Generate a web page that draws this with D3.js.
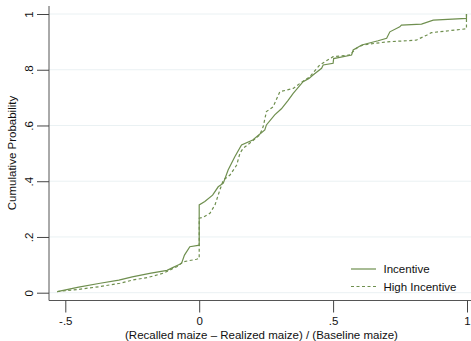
<!DOCTYPE html>
<html>
<head>
<meta charset="utf-8">
<script src="https://cdn.jsdelivr.net/npm/d3@7"></script>
<style>
  html, body { margin: 0; padding: 0; background: #fff; }
  svg { display: block; font-family: "Liberation Sans", Arial, Helvetica, sans-serif; }
</style>
</head>
<body>
<svg id="chart" width="471" height="341"></svg>
<script>
// Empirical CDF of recall error, by incentive arm
const incentiveX = [-0.53, -0.45, -0.37, -0.30, -0.25, -0.18, -0.12, -0.097, -0.066, -0.055, -0.035, -0.004, 0, 0, 0.021, 0.05, 0.071, 0.09, 0.108, 0.133, 0.158, 0.20, 0.245, 0.251, 0.282, 0.307, 0.332, 0.351, 0.388, 0.41, 0.425, 0.457, 0.463, 0.5, 0.502, 0.569, 0.575, 0.607, 0.668, 0.7, 0.712, 0.749, 0.755, 0.83, 0.874, 0.998, 0.998];
const incentiveY = [0.004, 0.02, 0.034, 0.045, 0.057, 0.07, 0.08, 0.091, 0.105, 0.135, 0.165, 0.17, 0.17, 0.315, 0.327, 0.35, 0.38, 0.393, 0.44, 0.488, 0.53, 0.548, 0.584, 0.602, 0.638, 0.66, 0.69, 0.715, 0.757, 0.769, 0.781, 0.805, 0.817, 0.823, 0.84, 0.853, 0.871, 0.889, 0.904, 0.913, 0.936, 0.954, 0.96, 0.964, 0.978, 0.984, 1.0];

const highX = [-0.53, -0.45, -0.37, -0.296, -0.246, -0.19, -0.134, -0.084, -0.06, -0.01, 0, 0, 0.015, 0.04, 0.059, 0.077, 0.09, 0.115, 0.14, 0.152, 0.164, 0.196, 0.226, 0.239, 0.251, 0.276, 0.301, 0.351, 0.376, 0.413, 0.45, 0.5, 0.562, 0.587, 0.612, 0.7, 0.81, 0.849, 0.867, 0.998, 0.998];
const highY = [0.004, 0.012, 0.022, 0.034, 0.046, 0.055, 0.07, 0.093, 0.111, 0.12, 0.123, 0.267, 0.271, 0.285, 0.315, 0.368, 0.404, 0.422, 0.458, 0.5, 0.518, 0.542, 0.566, 0.596, 0.65, 0.667, 0.721, 0.733, 0.751, 0.775, 0.817, 0.847, 0.853, 0.877, 0.889, 0.9, 0.906, 0.924, 0.933, 0.947, 1.0];

const xTicks = [-0.5, 0, 0.5, 1];
const xTickLabels = ["-.5", "0", ".5", "1"];
const yTicks = [0, 0.2, 0.4, 0.6, 0.8, 1];
const yTickLabels = ["0", ".2", ".4", ".6", ".8", "1"];
const seriesNames = ["Incentive", "High Incentive"];

const lineColor = "#6f8f4f";
const textColor = "#111";
const fontSize = 11.5;
const svg = d3.select("#chart");

const plotLeft = 49, plotRight = 471, plotTop = 6, plotBottom = 300.5;
const x = d3.scaleLinear().domain([-0.5, 1]).range([65.3, 467]);
const y = d3.scaleLinear().domain([0, 1]).range([292.7, 14]);

// grid lines
svg.append("g").selectAll("line").data(yTicks).join("line")
  .attr("x1", plotLeft).attr("x2", plotRight)
  .attr("y1", d => y(d)).attr("y2", d => y(d))
  .attr("stroke", "#eaf1f3").attr("stroke-width", 1);

// y axis with vertical tick labels
const yAxis = d3.axisLeft(y).tickValues(yTicks).tickFormat((d, i) => yTickLabels[i]).tickSize(12);
const gy = svg.append("g").attr("transform", `translate(${plotLeft},0)`).call(yAxis);
gy.select(".domain").attr("d", `M0,${plotTop}V${plotBottom}`).attr("stroke", "#555");
gy.selectAll(".tick line").attr("stroke", "#444");
gy.selectAll(".tick text")
  .attr("font-size", fontSize).attr("fill", textColor)
  .attr("transform", "rotate(-90)")
  .attr("x", 0).attr("y", -20)
  .attr("dy", "0.35em")
  .attr("text-anchor", "middle");

// x axis
const xAxis = d3.axisBottom(x).tickValues(xTicks).tickFormat((d, i) => xTickLabels[i]).tickSize(12).tickPadding(4);
const gx = svg.append("g").attr("transform", `translate(0,${plotBottom})`).call(xAxis);
gx.select(".domain").attr("d", `M${plotLeft},0H${plotRight}`).attr("stroke", "#555");
gx.selectAll(".tick line").attr("stroke", "#444");
gx.selectAll(".tick text").attr("font-size", fontSize).attr("fill", textColor);
svg.selectAll(".domain").attr("fill", "none");

// axis titles
svg.append("text")
  .attr("x", 261.5).attr("y", 339)
  .attr("text-anchor", "middle").attr("font-size", fontSize).attr("fill", textColor)
  .text("(Recalled maize – Realized maize) / (Baseline maize)");
svg.append("text")
  .attr("transform", "translate(16,153) rotate(-90)")
  .attr("text-anchor", "middle").attr("font-size", fontSize).attr("fill", textColor)
  .text("Cumulative Probability");

// curves
const line = d3.line().x(d => x(d[0])).y(d => y(d[1]));
const incentive = incentiveX.map((v, i) => [v, incentiveY[i]]);
const high = highX.map((v, i) => [v, highY[i]]);

svg.append("path").datum(high).attr("d", line)
  .attr("fill", "none").attr("stroke", lineColor).attr("stroke-width", 1.2)
  .attr("stroke-dasharray", "3,2.5");
svg.append("path").datum(incentive).attr("d", line)
  .attr("fill", "none").attr("stroke", lineColor).attr("stroke-width", 1.2);

// legend
const legend = svg.append("g");
const legendRows = [{ name: seriesNames[0], dash: null, cy: 269 }, { name: seriesNames[1], dash: "3,2.5", cy: 286.5 }];
legendRows.forEach(r => {
  legend.append("line")
    .attr("x1", 351).attr("x2", 376).attr("y1", r.cy).attr("y2", r.cy)
    .attr("stroke", lineColor).attr("stroke-width", 1.2)
    .attr("stroke-dasharray", r.dash);
  legend.append("text")
    .attr("x", 383.5).attr("y", r.cy).attr("dy", "0.35em")
    .attr("font-size", fontSize).attr("fill", textColor)
    .text(r.name);
});
</script>
</body>
</html>
